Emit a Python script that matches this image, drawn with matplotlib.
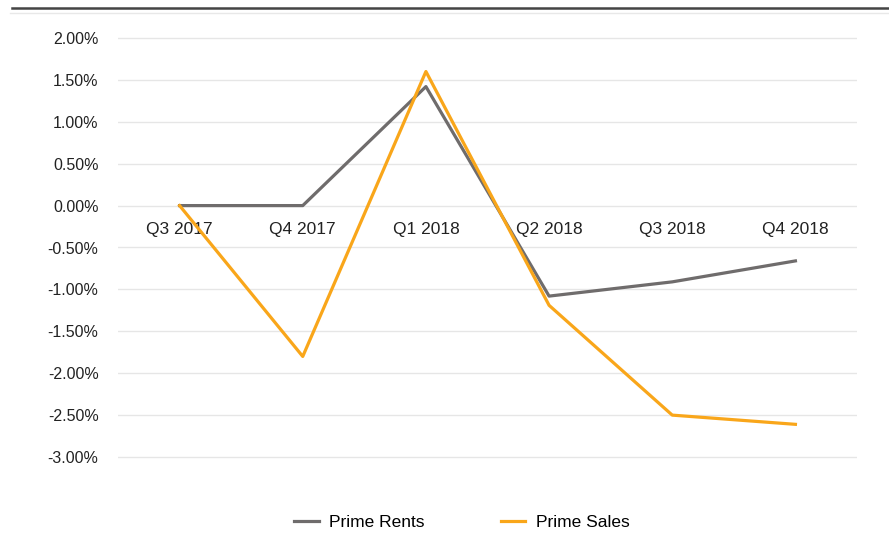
import matplotlib.pyplot as plt
from matplotlib.lines import Line2D
from matplotlib.ticker import FuncFormatter

quarters = ['Q3 2017', 'Q4 2017', 'Q1 2018', 'Q2 2018', 'Q3 2018', 'Q4 2018']
prime_rents = [0.0, 0.0, 1.42, -1.08, -0.91, -0.66]
prime_sales = [0.0, -1.80, 1.60, -1.19, -2.50, -2.61]

narrow = ['Liberation Sans Narrow', 'Liberation Sans', 'DejaVu Sans']
plt.rcParams['font.family'] = ['Liberation Sans', 'DejaVu Sans']

fig = plt.figure(figsize=(8.89, 5.39), dpi=100)
# axes box: y = 2.02 at 36.3px, y = -3.02 at 458.7px
ax = fig.add_axes([118 / 889, 1 - 458.7 / 539, (857 - 118) / 889, (458.7 - 36.3) / 539])

x = list(range(len(quarters)))
ax.plot(x, prime_rents, color='#6f6c6c', linewidth=2.3, label='Prime Rents', zorder=3)
ax.plot(x, prime_sales, color='#f9a61a', linewidth=2.3, label='Prime Sales', zorder=4)

ax.set_xlim(-0.5, 5.5)
ax.set_ylim(-3.02, 2.02)
ax.set_yticks([2.0, 1.5, 1.0, 0.5, 0.0, -0.5, -1.0, -1.5, -2.0, -2.5, -3.0])
ax.yaxis.set_major_formatter(FuncFormatter(lambda v, p: f'{v:.2f}%'))
ax.grid(axis='y', color='#e6e6e6', linewidth=1)
ax.set_axisbelow(True)

for s in ['top', 'right', 'left']:
    ax.spines[s].set_visible(False)
ax.spines['bottom'].set_position(('data', 0))
ax.spines['bottom'].set_visible(False)

ax.set_xticks(x)
ax.set_xticklabels(quarters, fontsize=12.5, family=narrow, color='#222222')
ax.tick_params(axis='x', length=0, pad=12)
ax.tick_params(axis='y', length=0, pad=14, labelsize=11.5, labelcolor='#222222')

# rule lines at the top of the figure
fig.add_artist(Line2D([12 / 889, 1], [1 - 8 / 539, 1 - 8 / 539], color='#444444', linewidth=1.8))
fig.add_artist(Line2D([10 / 889, 1], [1 - 13 / 539, 1 - 13 / 539], color='#e8e8e8', linewidth=1))

leg = ax.legend(loc='center', bbox_to_anchor=(462 / 889, 1 - 522 / 539),
                bbox_transform=fig.transFigure, ncol=2, frameon=False,
                handlelength=1.4, columnspacing=4.4, handletextpad=0.6,
                prop={'family': narrow, 'size': 12.5})

fig.savefig('out.png', dpi=100, facecolor='white')
